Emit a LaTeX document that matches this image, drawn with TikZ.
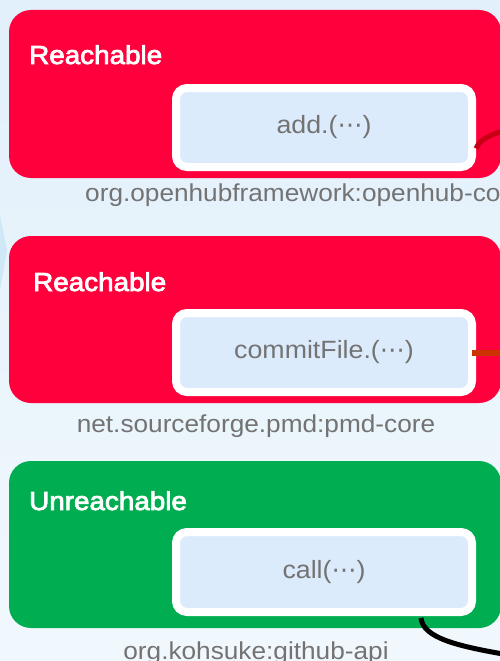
\documentclass[tikz,border=0pt]{standalone}
\usepackage{fontspec}
\setmainfont{Liberation Sans}[FakeStretch=1.07]
\newfontfamily\statusfont{Liberation Sans}[FakeStretch=1.07, FakeBold=3]
\newfontfamily\dotsfont{DejaVu Sans}
\definecolor{reachred}{RGB}{255,0,60}
\definecolor{unreachgreen}{RGB}{0,173,80}
\definecolor{methodfill}{RGB}{220,235,252}
\definecolor{textgray}{RGB}{115,115,115}
\definecolor{bgtop}{RGB}{225,240,250}
\definecolor{bgbottom}{RGB}{241,248,253}
\definecolor{edgeblue}{RGB}{200,230,245}
\definecolor{linkred}{RGB}{200,0,20}
\definecolor{linkorange}{RGB}{204,51,0}
\newcommand{\ellip}{{\dotsfont ⋯}}
\begin{document}
\begin{tikzpicture}[x=1pt,y=-1pt,
  pkgbox/.style={rectangle, rounded corners=22pt, minimum width=492pt,
    minimum height=168pt, inner sep=0pt, outer sep=0pt, draw=none},
  method/.style={rectangle, rounded corners=11pt, fill=methodfill, draw=white,
    line width=8pt, minimum width=296pt, minimum height=79pt, inner sep=0pt,
    outer sep=0pt, text=textgray, font=\fontsize{25}{30}\selectfont},
  status/.style={anchor=base west, inner sep=0pt, text=white,
    font=\statusfont\fontsize{26}{32}\selectfont},
  pkglabel/.style={inner sep=0pt, text=textgray,
    font=\fontsize{24.5}{30}\selectfont},
  link/.style={line width=5pt, line cap=butt}]
  % page and background
  \useasboundingbox (0,0) rectangle (500,661);
  \clip (0,0) rectangle (500,661);
  \shade[top color=bgtop, bottom color=bgbottom] (0,0) rectangle (500,661);
  \fill[edgeblue, opacity=0.8] (0,215) -- (7,250) -- (0,290) -- cycle;

  % package boxes
  \node[pkgbox, fill=reachred] (pkgA) at (255,94) {};
  \node[pkgbox, fill=reachred, minimum height=167pt] (pkgB) at (255,319.5) {};
  \node[pkgbox, fill=unreachgreen, minimum height=167pt] (pkgC) at (255,544.5) {};

  % reachability status
  \node[status] (stA) at (29,64) {Reachable};
  \node[status] (stB) at (33,291) {Reachable};
  \node[status] (stC) at (29,510) {Unreachable};

  % methods
  \node[method] (mA) at (324,127.5) {add.(\ellip)};
  \node[method] (mB) at (324,352.5) {commitFile.(\ellip)};
  \node[method, minimum height=80pt] (mC) at (324,572) {call(\ellip)};

  % package coordinates
  \node[pkglabel, anchor=base west] (lbA) at (85,201) {org.openhubframework:openhub-core};
  \node[pkglabel, anchor=base] (lbB) at (256,432) {net.sourceforge.pmd:pmd-core};
  \node[pkglabel, anchor=base] (lbC) at (256,659) {org.kohsuke:github-api};

  % outgoing call edges
  \coordinate (outA) at (503,131);
  \coordinate (outB) at (503,352.5);
  \coordinate (outC) at (503,654);
  \draw[link, linkred] ([xshift=4pt,yshift=-21pt]mA.east)
    .. controls +(4,-10) and +(-10,3) .. (outA);
  \draw[link, linkorange, line width=6pt] (mB.east) -- (outB);
  \draw[link, black] ([xshift=97pt,yshift=-6pt]mC.south)
    .. controls +(2,20) and +(-45,-8) .. (outC);
\end{tikzpicture}
\end{document}
